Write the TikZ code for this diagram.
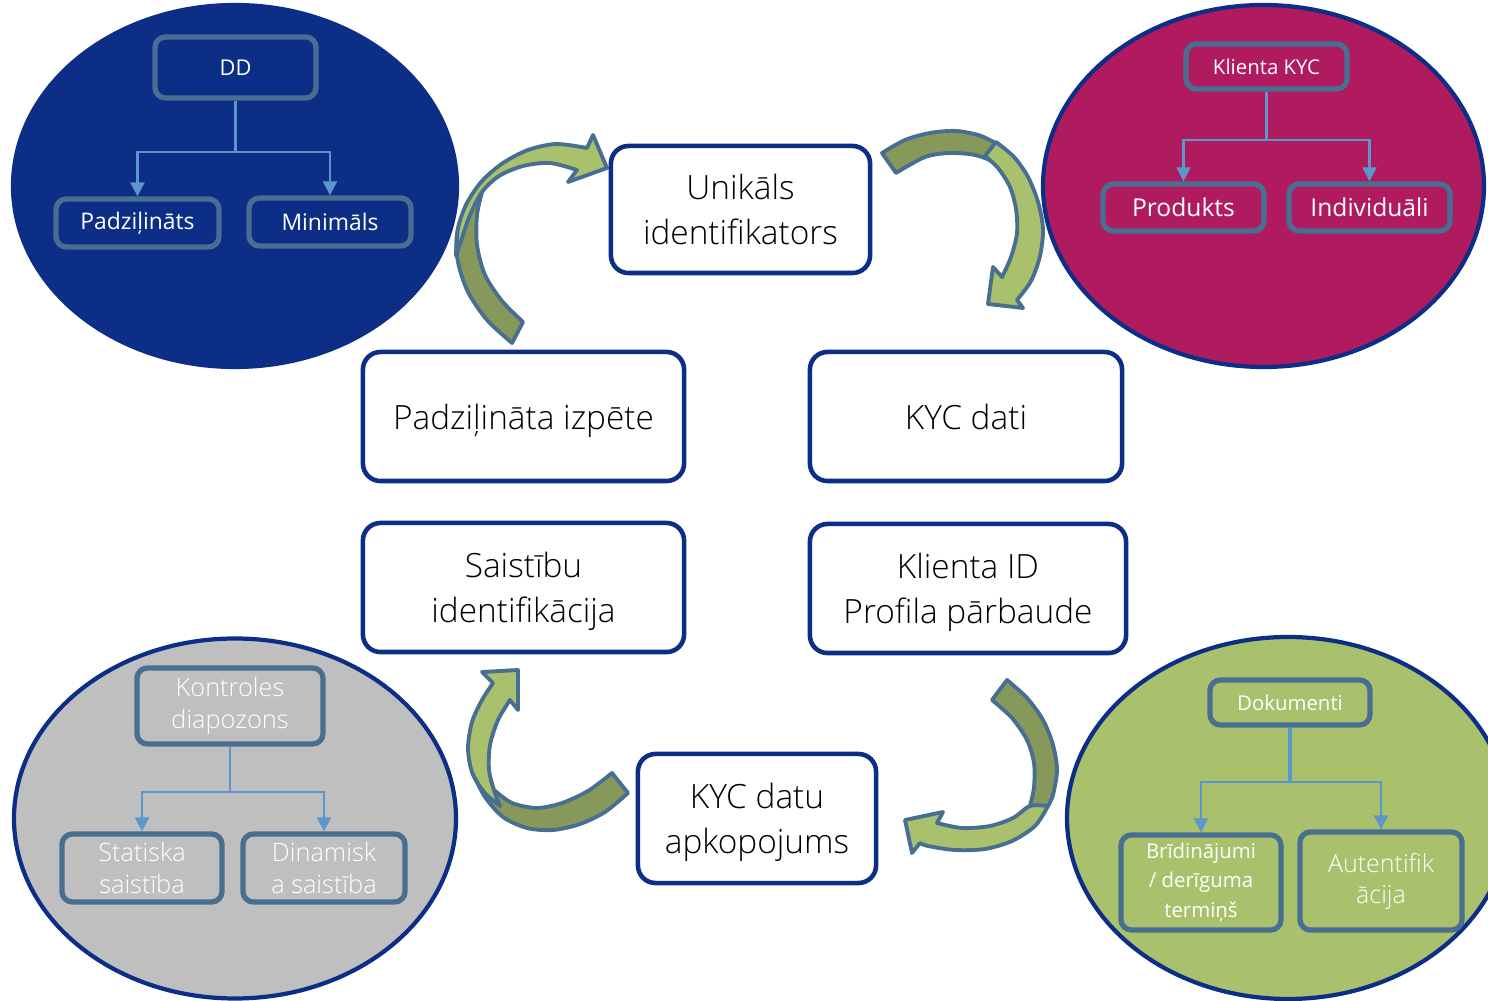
\documentclass[tikz,border=0pt]{standalone}
\usepackage{fontspec}
\setmainfont{Open Sans}
\IfFontExistsTF{Open Sans Light}{\newfontfamily\vieglais{Open Sans Light}}{\newfontfamily\vieglais{Open Sans}}
\usetikzlibrary{arrows.meta}

\definecolor{tumsz}{RGB}{12,46,134}
\definecolor{rozs}{RGB}{176,26,94}
\definecolor{pelek}{RGB}{191,191,191}
\definecolor{zalgais}{RGB}{169,193,108}
\definecolor{zaltums}{RGB}{135,153,90}
\definecolor{terauds}{RGB}{72,111,146}
\definecolor{linija}{RGB}{91,151,202}

\tikzset{
  lielkaste/.style={draw=tumsz, line width=1.3pt, fill=white, rounded corners=5pt,
    align=center, inner sep=0pt, text depth=0pt, font=\vieglais\fontsize{9.5}{12.8}\selectfont},
  mazkaste/.style={draw=terauds, line width=1.5pt, rounded corners=3pt,
    align=center, inner sep=0pt, text=white},
  savienot/.style={draw=linija, line width=0.6pt, -{Triangle[width=4pt,length=4pt]}},
  lapa/.style={draw=tumsz, line width=1.2pt},
  bulta/.style={draw=terauds, line width=1.1pt, line join=round},
}

\begin{document}
\begin{tikzpicture}[x=0.01cm, y=-0.01cm]
  % lapas robezas (pikseli, y uz leju)
  \clip (0,0) rectangle (1488,1001);

  % cetras elipses
  \filldraw[lapa, fill=tumsz] (235,186) ellipse [x radius=222, y radius=181];
  \filldraw[lapa, fill=rozs] (1263.5,186) ellipse [x radius=220.5, y radius=181];
  \filldraw[lapa, fill=pelek] (235,818.5) ellipse [x radius=221, y radius=180];
  \filldraw[lapa, fill=zalgais] (1288,818) ellipse [x radius=221, y radius=181];

  % DD
  \node[mazkaste, minimum width=1.61cm, minimum height=0.61cm, font=\fontsize{6.2}{8}\selectfont] (dd) at (235.5,67.5) {DD};
  \node[mazkaste, minimum width=1.63cm, minimum height=0.48cm, font=\fontsize{6.5}{8}\selectfont] (padzs) at (137.5,223) {Padziļināts};
  \node[mazkaste, minimum width=1.62cm, minimum height=0.48cm, font=\fontsize{6.5}{8}\selectfont] (minim) at (330,222) {Minimāls};
  \draw[savienot] (dd.south) -- ++(0,51) -| (padzs.north);
  \draw[savienot] (dd.south) -- ++(0,51) -| (minim.north);

  % Klienta KYC
  \node[mazkaste, minimum width=1.61cm, minimum height=0.45cm, font=\fontsize{5.8}{8}\selectfont] (klkyc) at (1266.5,66.5) {Klienta KYC};
  \node[mazkaste, minimum width=1.61cm, minimum height=0.47cm, font=\fontsize{7}{8}\selectfont] (prod) at (1183.5,207.5) {Produkts};
  \node[mazkaste, minimum width=1.61cm, minimum height=0.47cm, font=\fontsize{7}{8}\selectfont] (indiv) at (1369.5,207.5) {Individuāli};
  \draw[savienot] (klkyc.south) -- ++(0,48) -| (prod.north);
  \draw[savienot] (klkyc.south) -- ++(0,48) -| (indiv.north);

  % Kontroles diapazons
  \node[mazkaste, minimum width=1.86cm, minimum height=0.76cm, font=\vieglais\fontsize{7.2}{9}\selectfont] (kontr) at (230,706) {Kontroles\\diapozons};
  \node[mazkaste, minimum width=1.6cm, minimum height=0.68cm, font=\vieglais\fontsize{7.2}{9}\selectfont] (stat) at (142,868) {Statiska\\saistība};
  \node[mazkaste, minimum width=1.62cm, minimum height=0.68cm, font=\vieglais\fontsize{7.2}{9}\selectfont] (dinam) at (324,868) {Dinamisk\\a saistība};
  \draw[savienot] (kontr.south) -- ++(0,45) -| (stat.north);
  \draw[savienot] (kontr.south) -- ++(0,45) -| (dinam.north);

  % Dokumenti
  \node[mazkaste, minimum width=1.6cm, minimum height=0.45cm, font=\fontsize{5.8}{8}\selectfont] (doku) at (1290,702.5) {Dokumenti};
  \node[mazkaste, minimum width=1.6cm, minimum height=0.95cm, font=\fontsize{5.8}{8.3}\selectfont] (brid) at (1201,882.5) {Brīdinājumi\\/ derīguma\\termiņš};
  \node[mazkaste, minimum width=1.62cm, minimum height=0.98cm, font=\vieglais\fontsize{7.1}{8.8}\selectfont] (autent) at (1381,881) {Autentifik\\ācija};
  \draw[draw=linija, line width=1.2pt] (doku.south) -- ++(0,54);
  \draw[savienot] (doku.south) -- ++(0,54) -| (brid.north);
  \draw[savienot] (doku.south) -- ++(0,54) -| (autent.north);

  % liektas bultas
  % augsa pa kreisi
  \filldraw[bulta, fill=zaltums] plot[smooth] coordinates {(512,343) (487,320) (468,292) (458,262) (457,234) (466,205)}
    -- plot[smooth] coordinates {(482,192) (477,215) (477,245) (485,275) (502,301) (523,322)} -- cycle;
  \filldraw[bulta, fill=zalgais] plot[smooth] coordinates {(456,256) (458,228) (467,203) (482,181) (503,163) (528,150) (556,144) (587,148)}
    -- (593,135) -- (607,168) -- (568,182)
    -- plot[smooth] coordinates {(577,170) (550,163) (523,166) (499,176) (482,192) (470,215) (462,238) (456,256)} -- cycle;

  % augsa pa labi
  \filldraw[bulta, fill=zaltums] plot[smooth] coordinates {(882,153) (905,140) (930,133) (956,131) (981,136) (1003,148) (1018,164)}
    -- plot[smooth] coordinates {(1010,178) (995,163) (975,155) (950,153) (925,157) (896,173)} -- cycle;
  \filldraw[bulta, fill=zalgais] plot[smooth] coordinates {(996,142) (1014,157) (1028,177) (1038,202) (1043,229) (1040,256) (1031,281) (1017,300)}
    -- (1023,308) -- (988,304) -- (993,267)
    -- plot[smooth] coordinates {(1002,277) (1011,257) (1017,233) (1016,209) (1010,187) (998,168) (985,156)} -- cycle;

  % apaksa pa kreisi
  \filldraw[bulta, fill=zaltums] plot[smooth] coordinates {(628,793) (605,812) (580,824) (553,830) (527,828) (503,817) (485,797) (472,772)}
    -- plot[smooth] coordinates {(494,790) (512,803) (537,808) (562,803) (588,791) (612,773)} -- cycle;
  \filldraw[bulta, fill=zalgais] (482,672) -- (518,670) -- (518,710)
    -- plot[smooth] coordinates {(510,700) (498,720) (490,745) (489,770) (494,790) (500,806)}
    -- plot[smooth] coordinates {(500,806) (484,792) (472,772) (468,748) (472,722) (482,700) (493,683)} -- cycle;

  % apaksa pa labi
  \filldraw[bulta, fill=zaltums] plot[smooth] coordinates {(1007,680) (1027,698) (1043,720) (1053,745) (1057,770) (1053,795) (1048,806)}
    -- plot[smooth] coordinates {(1030,806) (1034,787) (1034,763) (1027,740) (1012,718) (992,700)} -- cycle;
  \filldraw[bulta, fill=zalgais] plot[smooth] coordinates {(1048,806) (1035,826) (1012,841) (985,849) (955,850) (928,846) (920,843)}
    -- (912,853) -- (905,820) -- (943,812)
    -- plot[smooth] coordinates {(937,823) (962,828) (990,826) (1013,818) (1030,806) (1048,806)} -- cycle;

  % centra kastes
  \node[lielkaste, minimum width=2.59cm, minimum height=1.27cm] (unik) at (740.5,209.5) {Unikāls\\identifikators};
  \node[lielkaste, minimum width=3.21cm, minimum height=1.29cm] (padz) at (523.5,416.5) {Padziļināta izpēte};
  \node[lielkaste, minimum width=3.12cm, minimum height=1.29cm] (kycd) at (966,416.5) {KYC dati};
  \node[lielkaste, minimum width=3.21cm, minimum height=1.29cm] (saist) at (523.5,587.5) {Saistību\\identifikācija};
  \node[lielkaste, minimum width=3.16cm, minimum height=1.29cm] (klid) at (968,588.5) {Klienta ID\\Profila pārbaude};
  \node[lielkaste, minimum width=2.38cm, minimum height=1.29cm] (apk) at (757,818.5) {KYC datu\\apkopojums};
\end{tikzpicture}
\end{document}
